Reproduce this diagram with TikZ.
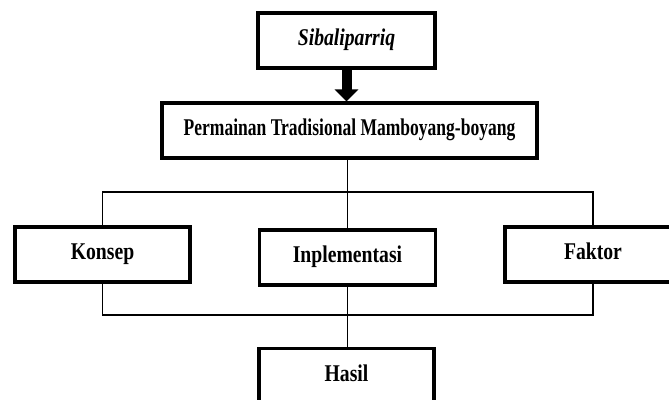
\documentclass[tikz,border=0pt]{standalone}
\usepackage{fontspec}
\setmainfont{Liberation Serif}
\usetikzlibrary{arrows.meta}
\newcommand{\sq}[2][0.82]{\scalebox{#1}[1]{#2}}
\begin{document}
\begin{tikzpicture}[x=1pt,y=-1pt,
  box/.style={draw=black,line width=3.2pt,fill=white,minimum height=55pt,inner sep=0pt,
    text height=16pt,text depth=6pt,
    font=\fontsize{24}{28}\selectfont\bfseries},
  conn/.style={draw=black,line width=1.4pt}]
\useasboundingbox (0,0) rectangle (669,399);
\begin{scope}
\clip (0,0) rectangle (669,399);
\node[box,minimum width=177pt] (sib) at (346.5,40.5) {\sq{\itshape Sibaliparriq}};
\node[box,minimum width=375pt] (main) at (349.5,130.5) {\sq[0.73]{Permainan Tradisional Mamboyang-boyang}};
\node[box,minimum width=175pt] (konsep) at (102.5,254.5) {\sq{Konsep}};
\node[box,minimum width=176pt] (inpl) at (347.5,257.5) {\sq{Inplementasi}};
\node[box,minimum width=176pt] (faktor) at (593,254.5) {\sq{Faktor}};
\node[box,minimum width=175pt] (hasil) at (346.5,376) {\sq{Hasil}};
\coordinate (bus1) at (347.5,192);
\coordinate (bus2) at (347.5,315);
\draw[line width=10pt,-{Triangle[width=23pt,length=12pt]}] (sib.south) -- (main.north -| sib.south);
\draw[conn] (main.south -| bus1) -- (inpl.north);
\draw[conn] (konsep.north) |- (bus1) -| (faktor.north);
\draw[conn] (konsep.south) |- (bus2) -| (faktor.south);
\draw[conn] (inpl.south) -- (hasil.north -| inpl.south);
\end{scope}
\end{tikzpicture}
\end{document}
